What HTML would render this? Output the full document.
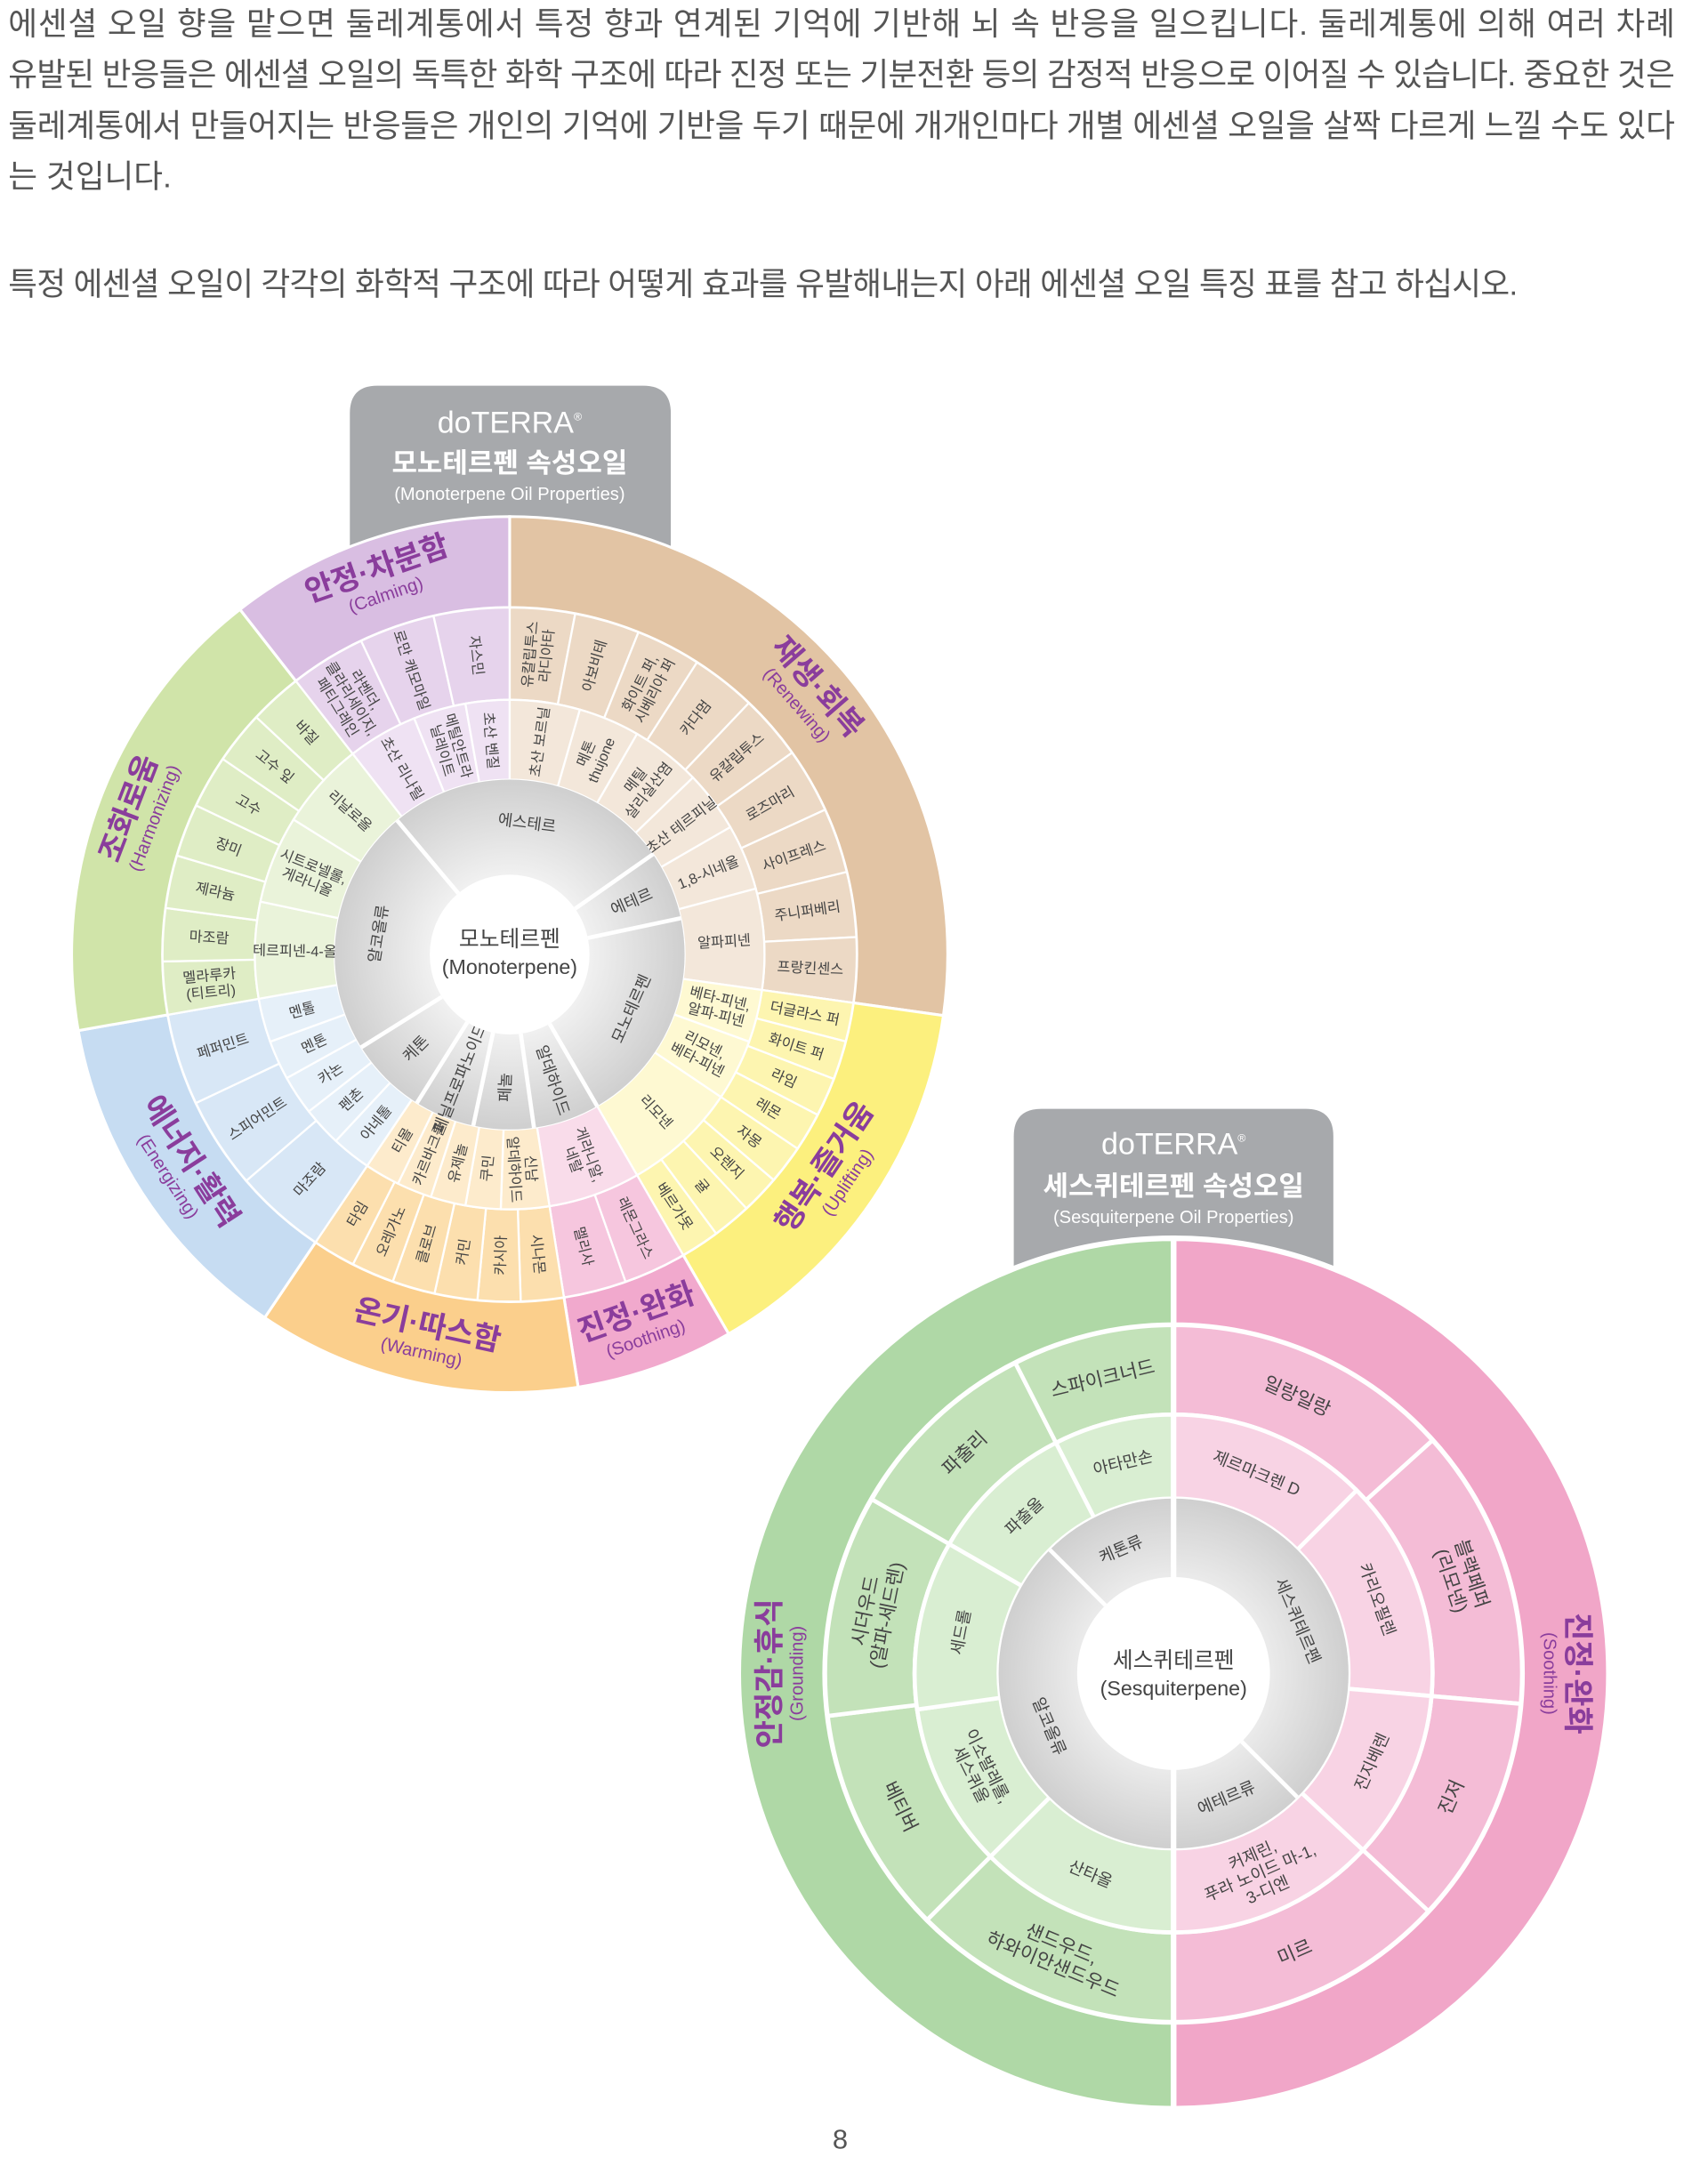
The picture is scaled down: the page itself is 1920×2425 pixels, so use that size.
<!DOCTYPE html>
<html><head><meta charset="utf-8">
<style>
html,body{margin:0;padding:0;background:#fff;}
svg{display:block;font-family:"Liberation Sans","Noto Sans CJK KR",sans-serif;}
</style></head>
<body>
<svg id="s" xmlns="http://www.w3.org/2000/svg" width="1920" height="2425" viewBox="0 0 1240 1566">
<rect width="1240" height="1566" fill="#fff"/>
<g fill="#555" font-size="23" font-family="'Liberation Sans','Noto Sans CJK KR',sans-serif">
<text x="6" y="25" textLength="1210" lengthAdjust="spacing">에센셜 오일 향을 맡으면 둘레계통에서 특정 향과 연계된 기억에 기반해 뇌 속 반응을 일으킵니다. 둘레계통에 의해 여러 차례</text>
<text x="6" y="62" textLength="1210" lengthAdjust="spacing">유발된 반응들은 에센셜 오일의 독특한 화학 구조에 따라 진정 또는 기분전환 등의 감정적 반응으로 이어질 수 있습니다. 중요한 것은</text>
<text x="6" y="99" textLength="1210" lengthAdjust="spacing">둘레계통에서 만들어지는 반응들은 개인의 기억에 기반을 두기 때문에 개개인마다 개별 에센셜 오일을 살짝 다르게 느낄 수도 있다</text>
<text x="6" y="136">는 것입니다.</text>
<text x="6" y="214" textLength="1096" lengthAdjust="spacing">특정 에센셜 오일이 각각의 화학적 구조에 따라 어떻게 효과를 유발해내는지 아래 에센셜 오일 특징 표를 참고 하십시오.</text>
</g>
<!-- header tabs -->
<path d="M254,420 V300 Q254,280 274,280 H467 Q487,280 487,300 V420 Z" fill="#a7a9ac"/>
<text x="370" y="314" fill="#fff" font-size="22" text-anchor="middle">doTERRA<tspan font-size="8" dy="-9">®</tspan></text>
<text x="370" y="343" fill="#fff" font-size="20" font-weight="bold" text-anchor="middle">모노테르펜 속성오일</text>
<text x="370" y="363" fill="#fff" font-size="13" text-anchor="middle">(Monoterpene Oil Properties)</text>
<path d="M736,940 V825 Q736,805 756,805 H948 Q968,805 968,825 V940 Z" fill="#a7a9ac"/>
<text x="852" y="838" fill="#fff" font-size="22" text-anchor="middle">doTERRA<tspan font-size="8" dy="-9">®</tspan></text>
<text x="852" y="868" fill="#fff" font-size="20" font-weight="bold" text-anchor="middle">세스퀴테르펜 속성오일</text>
<text x="852" y="888" fill="#fff" font-size="13" text-anchor="middle">(Sesquiterpene Oil Properties)</text>
<defs>
<radialGradient id="g1"><stop offset="0.4" stop-color="#f4f4f4"/><stop offset="1" stop-color="#cfcfcf"/></radialGradient>
</defs>
<g id="c"></g>
<text x="610" y="1560" fill="#555" font-size="20" text-anchor="middle">8</text>
</svg>
<script>
const NS="http://www.w3.org/2000/svg",G=document.getElementById('c');
function P(cx,cy,r,a){const t=a*Math.PI/180;return [cx+r*Math.sin(t),cy-r*Math.cos(t)];}
function el(tag,attrs,txt){const e=document.createElementNS(NS,tag);for(const k in attrs)e.setAttribute(k,attrs[k]);if(txt!==undefined)e.textContent=txt;G.appendChild(e);return e;}
function seg(cx,cy,r1,r2,a1,a2,fill,sw){const L=a2-a1>180?1:0;const p1=P(cx,cy,r2,a1),p2=P(cx,cy,r2,a2),p3=P(cx,cy,r1,a2),p4=P(cx,cy,r1,a1);
 el('path',{d:`M${p1} A${r2},${r2} 0 ${L} 1 ${p2} L${p3} A${r1},${r1} 0 ${L} 0 ${p4} Z`,fill:fill,stroke:'#fff','stroke-width':sw||1.5});}
function label(cx,cy,r,a,txt,mode,size,color,weight){const p=P(cx,cy,r,a);let rot;a=((a%360)+360)%360;
 if(mode==='rad'){rot=(a<180)?a-90:a+90;}else{rot=(a>90&&a<270)?a-180:a;}
 const t=el('text',{transform:`translate(${p[0]},${p[1]}) rotate(${rot})`,'text-anchor':'middle','font-size':size,fill:color||'#444','font-weight':weight||'normal'});
 const lines=txt.split('\n');lines.forEach((l,i)=>{const s=document.createElementNS(NS,'tspan');s.setAttribute('x',0);s.setAttribute('y',(i-(lines.length-1)/2)*size*1.15+size*0.35);s.textContent=l;t.appendChild(s);});}
function catLabel(cx,cy,r,a,name,eng){const p=P(cx,cy,r,a);a=((a%360)+360)%360;const rot=(a>90&&a<270)?a-180:a;
 const flip=(a>90&&a<270);
 const t=el('text',{transform:`translate(${p[0]},${p[1]}) rotate(${rot})`,'text-anchor':'middle',fill:'#8a3d9c'});
 const s1=document.createElementNS(NS,'tspan');s1.setAttribute('x',0);s1.setAttribute('y',flip?-4:-2);s1.setAttribute('font-size',22);s1.setAttribute('font-weight','bold');s1.textContent=name;t.appendChild(s1);
 const s2=document.createElementNS(NS,'tspan');s2.setAttribute('x',0);s2.setAttribute('y',flip?13:15);s2.setAttribute('font-size',13);s2.textContent=eng;t.appendChild(s2);}

// ===== chart 1 =====
const cx=370,cy=693,R0=58,R1=127,R2=185,R3=252,R4=318;
const cats=[[0,98,'#e2c4a4','#ecd9c5','#f3e7da','재생·회복','(Renewing)'],
[98,150,'#fcf07e','#fdf5b0','#fef9d2','행복·즐거움','(Uplifting)'],
[150,171,'#f1a9cd','#f6c6de','#f9dcea','진정·완화','(Soothing)'],
[171,214,'#fbcf8c','#fcdfae','#fdebcc','온기·따스함','(Warming)'],
[214,260,'#c6dcf2','#d8e7f6','#e6f0f9','에너지·활력','(Energizing)'],
[260,322,'#d0e4a9','#dfedc5','#eaf3da','조화로움','(Harmonizing)'],
[322,360,'#d9bee2','#e6d3ec','#efe2f3','안정·차분함','(Calming)']];
const oils=[
['유칼립투스\n라디아타','아보비테','화이트 퍼,\n시베리아 퍼','카다멈','유칼립투스','로즈마리','사이프레스','주니퍼베리','프랑킨센스'],
['더글라스 퍼','화이트 퍼','라임','레몬','자몽','오렌지','귤','베르가못'],
['레몬그라스','멜리사'],
['시나몬','카시아','커민','클로브','오레가노','타임'],
['마조람','스피어민트','페퍼민트'],
['멜라루카\n(티트리)','마조람','제라늄','장미','고수','고수 잎','바질'],
['라벤더,\n클라리세이지,\n페티그레인','로만 캐모마일','자스민']];
const comps=[[0,16,'초산 보르닐'],[16,30,'메톤\nthujone'],[30,46,'메틸\n살리실산염'],[46,60,'초산 테르피닐'],[60,75,'1,8-시네올'],[75,98,'알파피넨'],
[98,110,'베타-피넨,\n알파-피넨'],[110,124,'리모넨,\n베타-피넨'],[124,150,'리모넨'],[150,171,'게라니알,\n네랄'],
[171,182,'신남\n알데하이드'],[182,190,'쿠민'],[190,198,'유제놀'],[198,206,'카르바크롤'],[206,214,'티몰'],
[214,223,'아네톨'],[223,232,'펜촌'],[232,241,'카논'],[241,250,'멘톤'],[250,260,'멘톨'],
[260,282,'테르피넨-4-올'],[282,302,'시트로넬롤,\n게라니올'],[302,322,'리날로올'],[322,338,'초산 리나릴'],[338,350,'메틸안트라\n닐레이트'],[350,360,'초산 벤질']];
const grays=[[-40,55,'에스테르'],[55,78,'에테르'],[78,150,'모노테르펜'],[150,172,'알데하이드'],[172,192,'페놀'],[192,212,'페닐프로파노이드'],[212,238,'케톤'],[238,320,'알코올류']];
cats.forEach((c,i)=>{seg(cx,cy,R3,R4,c[0],c[1],c[2],2);seg(cx,cy,R2,R3,c[0],c[1],c[3]);
 const o=oils[i],n=o.length,w=(c[1]-c[0])/n;o.forEach((t,j)=>{const a1=c[0]+j*w;seg(cx,cy,R2,R3,a1,a1+w,c[3]);label(cx,cy,(R2+R3)/2,a1+w/2,t,'rad',10.5);});});
comps.forEach(c=>{const cat=cats.find(k=>c[0]>=k[0]&&c[0]<k[1]);seg(cx,cy,R1,R2,c[0],c[1],cat[4]);label(cx,cy,(R1+R2)/2,(c[0]+c[1])/2,c[2],'rad',10.5);});
el('circle',{cx:cx,cy:cy,r:R1,fill:'url(#g1)'});
grays.forEach(g=>{const a1=P(cx,cy,R0,g[0]),a2=P(cx,cy,R1,g[0]);el('line',{x1:a1[0],y1:a1[1],x2:a2[0],y2:a2[1],stroke:'#fff','stroke-width':3});
 const m=(g[0]+g[1])/2;label(cx,cy,(R0+R1)/2+4,m,g[2],(g[1]-g[0]>40)?'tan':'rad',11.5);});
el('circle',{cx:cx,cy:cy,r:R0,fill:'#fff'});
el('text',{x:cx,y:cy-6,'text-anchor':'middle','font-size':16,fill:'#444'},'모노테르펜');
el('text',{x:cx,y:cy+14,'text-anchor':'middle','font-size':15,fill:'#444'},'(Monoterpene)');
cats.forEach(c=>catLabel(cx,cy,287,(c[0]+c[1])/2,c[5],c[6]));

// ===== chart 2 =====
const dx=852,dy=1215,S0=70,S1=127,S2=188,S3=253,S4=316;
const GC=['#afd8a6','#c3e2b9','#d9eed2'],PC=['#f1a6c8','#f4bcd6','#f8d3e4'];
seg(dx,dy,S3,S4,0,180,PC[0],4);seg(dx,dy,S3,S4,180,360,GC[0],4);
const o2=[[0,48,'일랑일랑'],[48,95,'블랙페퍼\n(리모넨)'],[95,133,'진저'],[133,180,'미르'],[180,225,'샌드우드,\n하와이안샌드우드'],[225,263,'베티버'],[263,300,'시더우드\n(알파-세드렌)'],[300,333,'파출리'],[333,360,'스파이크너드']];
const c2=[[0,45,'제르마크렌 D'],[45,95,'카리오필렌'],[95,133,'진지베렌'],[133,180,'커제린,\n푸라 노이드 마-1,\n3-디엔'],[180,225,'산타올'],[225,262,'이소발레롤,\n세스퀴올'],[262,300,'세드롤'],[300,333,'파출올'],[333,360,'아타만손']];
o2.forEach(s=>{seg(dx,dy,S2,S3,s[0],s[1],s[0]<180?PC[1]:GC[1],3);label(dx,dy,(S2+S3)/2,(s[0]+s[1])/2,s[2],'tan',14);});
c2.forEach(s=>{seg(dx,dy,S1,S2,s[0],s[1],s[0]<180?PC[2]:GC[2],3);label(dx,dy,(S1+S2)/2,(s[0]+s[1])/2,s[2],'tan',12);});
el('circle',{cx:dx,cy:dy,r:S1,fill:'url(#g1)'});
[[0],[135],[180],[315]].forEach(g=>{const a1=P(dx,dy,S0,g[0]),a2=P(dx,dy,S1,g[0]);el('line',{x1:a1[0],y1:a1[1],x2:a2[0],y2:a2[1],stroke:'#fff','stroke-width':3});});
label(dx,dy,98,67,'세스퀴테르펜','tan',12);label(dx,dy,98,157,'에테르류','tan',12);label(dx,dy,98,247,'알코올류','tan',12);label(dx,dy,98,337,'케톤류','tan',12);
el('line',{x1:dx,y1:dy-S4,x2:dx,y2:dy+S4,stroke:'#fff','stroke-width':4});
el('circle',{cx:dx,cy:dy,r:S0,fill:'#fff'});
el('text',{x:dx,y:dy-4,'text-anchor':'middle','font-size':16,fill:'#444'},'세스퀴테르펜');
el('text',{x:dx,y:dy+16,'text-anchor':'middle','font-size':15,fill:'#444'},'(Sesquiterpene)');
catLabel(dx,dy,284,90,'진정·완화','(Soothing)');
catLabel(dx,dy,284,270,'안정감·휴식','(Grounding)');
</script>
</body></html>
